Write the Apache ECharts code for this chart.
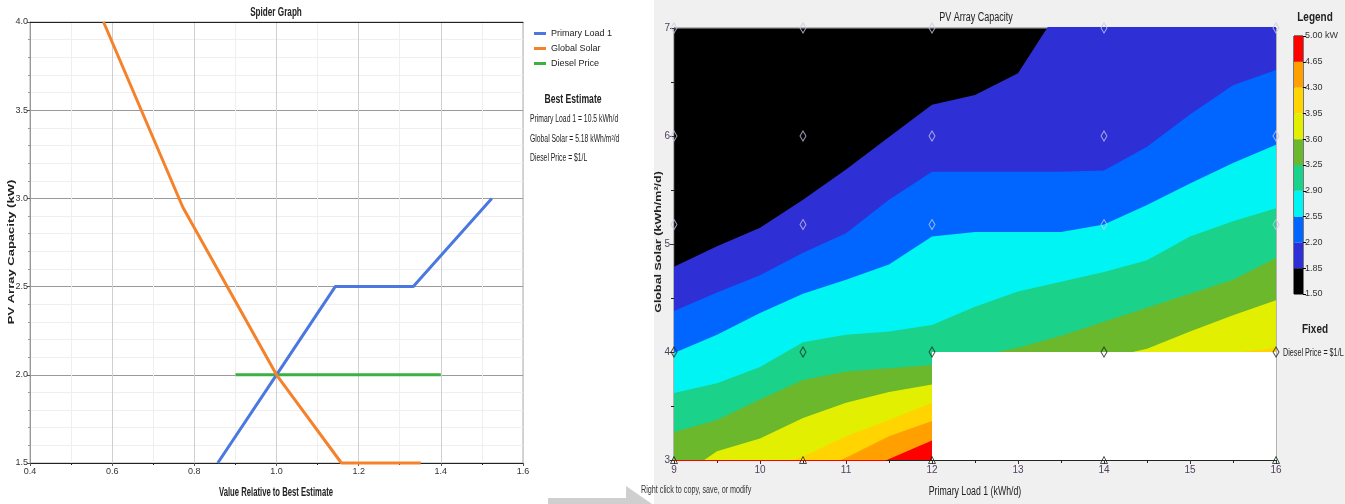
<!DOCTYPE html>
<html>
<head>
<meta charset="utf-8">
<title>Spider Graph / PV Array Capacity</title>
<script src="https://cdn.jsdelivr.net/npm/echarts@6/dist/echarts.min.js"></script>
<style>
html,body{margin:0;padding:0;}
#main{width:1345px;height:504px;background:linear-gradient(to right,#fff 0,#fff 654px,#f0f0f0 654px,#f0f0f0 100%);}
</style>
</head>
<body>
<div id="main"></div>
<script>
var FONT = "'Liberation Sans', Arial, sans-serif";

// spider graph (value relative to best estimate -> PV array kW)
var loadRel = [0.857, 1.0, 1.143, 1.333, 1.524];
var loadPV = [1.5, 2.0, 2.5, 2.5, 3.0];
var solarRel = [0.579, 0.772, 1.0, 1.158, 1.351];
var solarPV = [4.0, 2.95, 2.0, 1.5, 1.5];
var dieselRel = [0.9, 1.0, 1.4];
var dieselPV = [2.0, 2.0, 2.0];
var bestEstimate = ['Primary Load 1 = 10.5 kWh/d', 'Global Solar = 5.18 kWh/m²/d', 'Diesel Price = $1/L'];

// contour plot: solar level of each contour line, read at these loads
var loadX = [9, 9.5, 10, 10.5, 11, 11.5, 12, 12.5, 13, 13.5, 14, 14.5, 15, 15.5, 16];
var c185 = [4.79, 4.98, 5.15, 5.41, 5.69, 5.99, 6.29, 6.38, 6.58, 7.2, 7.3, 7.3, 7.3, 7.3, 7.3];
var c220 = [4.38, 4.55, 4.71, 4.92, 5.10, 5.41, 5.67, 5.67, 5.67, 5.67, 5.68, 5.90, 6.20, 6.47, 6.61];
var c255 = [3.99, 4.16, 4.36, 4.54, 4.67, 4.81, 5.07, 5.11, 5.11, 5.11, 5.18, 5.36, 5.56, 5.75, 5.92];
var c290 = [3.62, 3.71, 3.86, 4.09, 4.16, 4.19, 4.25, 4.42, 4.56, 4.65, 4.74, 4.85, 5.07, 5.21, 5.33];
var c325 = [3.26, 3.37, 3.56, 3.74, 3.82, 3.85, 3.88, 3.96, 4.04, 4.15, 4.28, 4.41, 4.54, 4.67, 4.87];
var c360 = [2.81, 3.08, 3.20, 3.39, 3.53, 3.63, 3.70, 3.76, 3.82, 3.88, 3.94, 4.03, 4.19, 4.34, 4.48];
var c395 = [2.70, 2.80, 2.90, 3.03, 3.22, 3.37, 3.53, 3.60, 3.68, 3.76, 3.84, 3.90, 3.95, 3.99, 4.04];
var c430 = [2.40, 2.55, 2.70, 2.85, 3.02, 3.22, 3.36, 3.45, 3.55, 3.62, 3.70, 3.76, 3.82, 3.87, 3.92];
var c465 = [2.00, 2.20, 2.40, 2.60, 2.80, 3.01, 3.18, 3.25, 3.32, 3.38, 3.45, 3.50, 3.55, 3.60, 3.65];
var bandColors = ['#000000', '#2f2fd6', '#0066ff', '#00f4f4', '#1bd28a', '#6bb82d', '#e2ef00', '#ffd400', '#ffa000', '#ff0000'];
var legendTicks = ['1.50', '1.85', '2.20', '2.55', '2.90', '3.25', '3.60', '3.95', '4.30', '4.65', '5.00 kW'];
var sensLoad = [9, 10.5, 12, 14, 16];
var sensSolar = [3, 4, 5.18, 6, 7];
var noData = [12, 3, 16, 4];

function pairs(xs, ys){
	return xs.map(function(x, i){ return [x, ys[i]]; });
}

// the screenshot is squeezed sideways, so texts get a narrow scale
function label(text, x, y, size, opts){
	opts = opts || {};
	return {
		type: 'text', x: x, y: y, z: 50,
		rotation: opts.rotate ? Math.PI / 2 : 0,
		scaleX: opts.rotate ? 1 : (opts.sx || 0.7),
		scaleY: opts.rotate ? (opts.sx || 0.7) : 1,
		style: {
			text: text, fontSize: size, fontFamily: FONT,
			fontWeight: opts.bold ? 'bold' : 'normal', fill: opts.color || '#222',
			align: opts.align || 'center', verticalAlign: 'middle'
		}
	};
}

var series = [
	{name: 'Primary Load 1', type: 'line', data: pairs(loadRel, loadPV), color: '#4a78e0',
		symbol: 'none', lineStyle: {width: 3}, clip: false, xAxisIndex: 0, yAxisIndex: 0, z: 5},
	{name: 'Global Solar', type: 'line', data: pairs(solarRel, solarPV), color: '#f5822a',
		symbol: 'none', lineStyle: {width: 3}, clip: false, xAxisIndex: 0, yAxisIndex: 0, z: 5},
	{name: 'Diesel Price', type: 'line', data: pairs(dieselRel, dieselPV), color: '#3cb043',
		symbol: 'none', lineStyle: {width: 3}, clip: false, xAxisIndex: 0, yAxisIndex: 0, z: 4}
];

// each contour fills everything below it with the next band colour
[c185, c220, c255, c290, c325, c360, c395, c430, c465].forEach(function(c, i){
	series.push({
		type: 'line', xAxisIndex: 1, yAxisIndex: 1, data: pairs(loadX, c),
		symbol: 'none', silent: true, lineStyle: {opacity: 0},
		areaStyle: {color: bandColors[i + 1], opacity: 1, origin: 'start'}, z: 2
	});
});

// infeasible region
series.push({
	type: 'line', xAxisIndex: 1, yAxisIndex: 1, data: [[noData[0], noData[3]]], z: 3,
	symbol: 'none', silent: true, lineStyle: {opacity: 0},
	markArea: {silent: true, z: 4, itemStyle: {color: '#fff', opacity: 1},
		data: [[{coord: [noData[0], noData[1]]}, {coord: [noData[2], noData[3]]}]]}
});

// sensitivity points
var markerData = [];
sensSolar.forEach(function(s){
	sensLoad.forEach(function(l){
		markerData.push({
			value: [l, s],
			symbol: s === 3 ? 'triangle' : 'diamond',
			symbolSize: s === 3 ? [7, 7] : [6, 10],
			itemStyle: {borderColor: s <= 4 ? '#1a2a1a' : '#c8c8e6'}
		});
	});
});
series.push({
	type: 'scatter', xAxisIndex: 1, yAxisIndex: 1, data: markerData, z: 6, silent: true,
	itemStyle: {color: 'rgba(0,0,0,0)', borderWidth: 1}
});

// colour legend bar
bandColors.forEach(function(col){
	series.push({
		type: 'bar', xAxisIndex: 2, yAxisIndex: 2, stack: 'legend', data: [1],
		barWidth: '100%', itemStyle: {color: col}, silent: true
	});
});

var option = {
	animation: false,
	textStyle: {fontFamily: FONT},
	legend: {
		data: ['Primary Load 1', 'Global Solar', 'Diesel Price'],
		orient: 'vertical', left: 529, top: 24, itemWidth: 12, itemHeight: 3, itemGap: 6,
		icon: 'rect', textStyle: {fontFamily: FONT, fontSize: 9, color: '#222'}
	},
	grid: [
		{left: 30, top: 22, width: 493, height: 441, show: true, borderColor: '#aaa', borderWidth: 1},
		{left: 674, top: 28, width: 602, height: 432, show: true, backgroundColor: '#000', borderColor: '#777', borderWidth: 1},
		{left: 1294, top: 36, width: 9, height: 258, show: true, borderColor: '#000', borderWidth: 1}
	],
	xAxis: [
		{gridIndex: 0, type: 'value', min: 0.4, max: 1.6, interval: 0.2,
			axisLine: {lineStyle: {color: '#222'}},
			axisTick: {length: 3, lineStyle: {color: '#555'}},
			minorTick: {show: true, splitNumber: 2, length: 2},
			axisLabel: {fontSize: 9, color: '#333', margin: 4, formatter: function(v){ return v.toFixed(1); }},
			splitLine: {lineStyle: {color: '#d0d0d0'}},
			minorSplitLine: {show: true, lineStyle: {color: '#efefef'}}},
		{gridIndex: 1, type: 'value', min: 9, max: 16, interval: 1,
			axisLine: {lineStyle: {color: '#222'}},
			axisTick: {length: 4, lineStyle: {color: '#333'}},
			minorTick: {show: true, splitNumber: 2, length: 3},
			axisLabel: {fontSize: 10, color: '#534060', margin: 5},
			splitLine: {show: false}},
		{gridIndex: 2, type: 'category', data: ['band'], show: false},
		{gridIndex: 0, type: 'value', position: 'top', min: 0.4, max: 1.6,
			axisLine: {lineStyle: {color: '#222'}}, axisTick: {show: false}, axisLabel: {show: false}, splitLine: {show: false}},
		{gridIndex: 1, type: 'value', position: 'top', min: 9, max: 16,
			axisLine: {lineStyle: {color: '#555'}}, axisTick: {show: false}, axisLabel: {show: false}, splitLine: {show: false}}
	],
	yAxis: [
		{gridIndex: 0, type: 'value', min: 1.5, max: 4.0, interval: 0.5,
			axisLine: {show: true, lineStyle: {color: '#999'}},
			axisTick: {show: true, length: 3, lineStyle: {color: '#555'}},
			minorTick: {show: true, splitNumber: 5, length: 2},
			axisLabel: {fontSize: 9, color: '#333', margin: 2, formatter: function(v){ return v.toFixed(1); }},
			splitLine: {lineStyle: {color: '#9a9a9a'}},
			minorSplitLine: {show: true, lineStyle: {color: '#efefef'}}},
		{gridIndex: 1, type: 'value', min: 3, max: 7, interval: 1,
			axisLine: {show: true, lineStyle: {color: '#222'}},
			axisTick: {show: true, length: 4, lineStyle: {color: '#333'}},
			minorTick: {show: true, splitNumber: 2, length: 3},
			axisLabel: {fontSize: 10, color: '#534060', margin: 4},
			splitLine: {show: false}},
		{gridIndex: 2, type: 'value', min: 0, max: 10, interval: 1, position: 'right',
			axisLine: {show: false},
			axisTick: {show: true, length: 3, inside: false, lineStyle: {color: '#000'}},
			axisLabel: {fontSize: 9, color: '#333', margin: 2,
				formatter: function(v){ return legendTicks[v]; }},
			splitLine: {show: false}}
	],
	graphic: [
		{type: 'polygon', z: 0, silent: true,
			shape: {points: [[548, 498], [626, 498], [626, 486], [652, 504], [548, 504]]},
			style: {fill: '#cfcfcf'}},
		label('Spider Graph', 276, 13, 12, {bold: true, sx: 0.68}),
		label('Value Relative to Best Estimate', 276, 493, 12, {bold: true, sx: 0.64}),
		label('PV Array Capacity (kW)', 11, 252, 13, {bold: true, rotate: true, sx: 0.75}),
		label('Best Estimate', 573, 100, 12, {bold: true, sx: 0.72}),
		label(bestEstimate[0], 530, 119, 10, {align: 'left', sx: 0.68}),
		label(bestEstimate[1], 530, 139, 10, {align: 'left', sx: 0.68}),
		label(bestEstimate[2], 530, 158, 10, {align: 'left', sx: 0.68}),
		label('PV Array Capacity', 976, 18, 12, {sx: 0.75}),
		label('Primary Load 1 (kWh/d)', 975, 492, 12, {sx: 0.73}),
		label('Global Solar (kWh/m²/d)', 658, 242, 12.5, {bold: true, rotate: true, sx: 0.75}),
		label('Right click to copy, save, or modify', 641, 490, 10, {align: 'left', sx: 0.72, color: '#333'}),
		label('Legend', 1315, 18, 12.5, {bold: true, sx: 0.8}),
		label('Fixed', 1315, 330, 12.5, {bold: true, sx: 0.8}),
		label('Diesel Price = $1/L', 1283, 353, 10, {align: 'left', sx: 0.72})
	],
	series: series
};

var myChart = echarts.init(document.getElementById('main'), null, {renderer: 'canvas'});
myChart.setOption(option);
</script>
</body>
</html>
